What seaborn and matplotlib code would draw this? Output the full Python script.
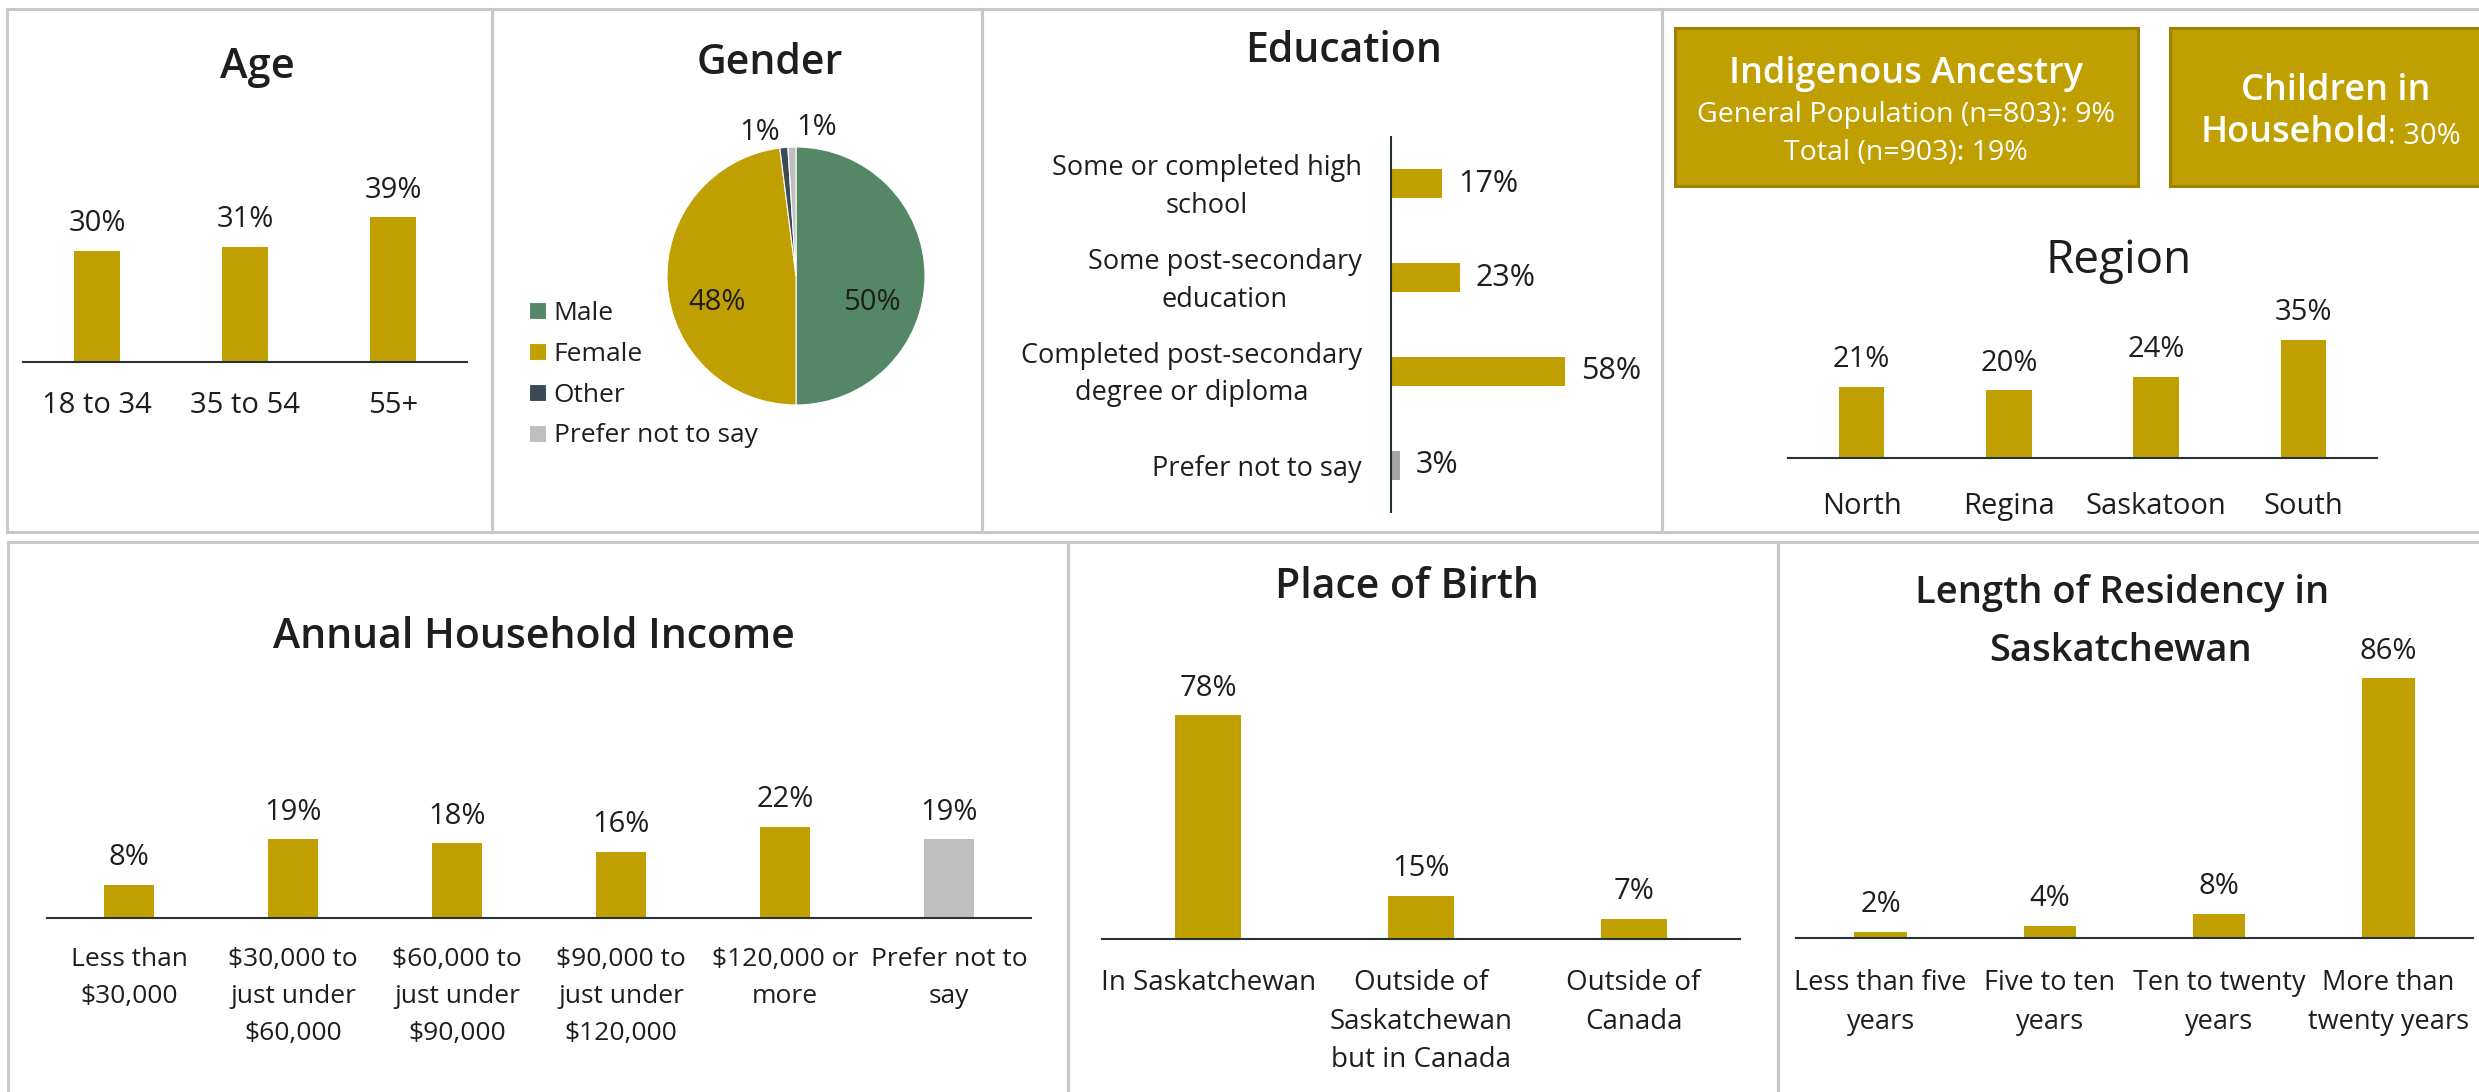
import pandas as pd
import seaborn as sns
import matplotlib.pyplot as plt
from matplotlib.patches import Rectangle
from matplotlib.text import Annotation
from matplotlib.transforms import ScaledTranslation

# ---- data ----
age_cats = ['18 to 34', '35 to 54', '55+']
age_vals = [30, 31, 39]

gender_cats = ['Male', 'Female', 'Other', 'Prefer not to say']
gender_vals = [50, 48, 1, 1]

edu_cats = ['Some or completed high\nschool', 'Some post-secondary\neducation',
            'Completed post-secondary\ndegree or diploma', 'Prefer not to say']
edu_vals = [17, 23, 58, 3]

region_cats = ['North', 'Regina', 'Saskatoon', 'South']
region_vals = [21, 20, 24, 35]

income_cats = ['Less than\n\\$30,000', '\\$30,000 to\njust under\n\\$60,000',
               '\\$60,000 to\njust under\n\\$90,000', '\\$90,000 to\njust under\n\\$120,000',
               '\\$120,000 or\nmore', 'Prefer not to\nsay']
income_vals = [8, 19, 18, 16, 22, 19]

birth_cats = ['In Saskatchewan', 'Outside of\nSaskatchewan\nbut in Canada', 'Outside of\nCanada']
birth_vals = [78, 15, 7]

res_cats = ['Less than five\nyears', 'Five to ten\nyears', 'Ten to twenty\nyears', 'More than\ntwenty years']
res_vals = [2, 4, 8, 86]

indig_general = 9
indig_total = 19
children_pct = 30

GOLD = '#C0A000'
GOLD_EDGE = '#9C8200'
GREEN = '#538766'
SLATE = '#3B4A55'
LGRAY = '#BFBFBF'
MGRAY = '#A6A6A6'
INK = '#1E1E1E'
AXIS = '#263238'
BORDER = '#C8C8C8'

sns.set_theme(style='white')
plt.rcParams['font.family'] = ['Open Sans', 'DejaVu Sans']
plt.rcParams['text.color'] = INK
plt.rcParams['xtick.color'] = INK
plt.rcParams['ytick.color'] = INK

W, H = 2479, 1092
fig = plt.figure(figsize=(W / 100, H / 100), dpi=100)
fig.patch.set_facecolor('white')


def fx(x):
    return x / W


def fy(y):
    return 1 - y / H


def place(x0, y0, x1, y1):
    ax = fig.add_axes([fx(x0), fy(y1), (x1 - x0) / W, (y1 - y0) / H])
    ax.set_facecolor('none')
    return ax


def panel(x0, y0, x1, y1):
    fig.add_artist(Rectangle((fx(x0), fy(y1)), (x1 - x0) / W, (y1 - y0) / H,
                             transform=fig.transFigure, fill=False,
                             edgecolor=BORDER, linewidth=2.2))


def title(x, y, s, size=29.5, weight='semibold'):
    fig.text(fx(x), fy(y), s, ha='center', va='baseline', fontsize=size,
             fontweight=weight, color=INK)


def vbars(cats, vals, colors, left, right, base, top, px, pad, size, ls=1.6):
    ax = place(left, top, right, base)
    df = pd.DataFrame({'cat': cats, 'val': vals})
    sns.barplot(data=df, x='cat', y='val', hue='cat', palette=dict(zip(cats, colors)),
                legend=False, width=0.31, saturation=1, linewidth=0, ax=ax)
    ax.set_xlim(-0.5, len(cats) - 0.5)
    ax.set_ylim(0, (base - top) / px)
    ax.set_xlabel('')
    ax.set_ylabel('')
    ax.set_yticks([])
    for s in ['top', 'left', 'right']:
        ax.spines[s].set_visible(False)
    ax.spines['bottom'].set_color(AXIS)
    ax.spines['bottom'].set_linewidth(1.5)
    ax.tick_params(axis='x', length=0, pad=pad, labelsize=size)
    plt.setp(ax.get_xticklabels(), linespacing=ls)
    for i, v in enumerate(vals):
        ax.annotate(f'{v}%', (i, v), xytext=(0, 19.5), textcoords='offset points',
                    ha='center', va='center', fontsize=21, color=INK)
    return ax


# ---- panel frames ----
panel(7, 9, 492, 532)
panel(492, 9, 982, 532)
panel(982, 9, 1662, 532)
panel(1662, 9, 2520, 532)
panel(8, 542, 1068, 1120)
panel(1068, 542, 1778, 1120)
panel(1778, 542, 2520, 1120)

# ---- Age ----
title(257, 78, 'Age', size=30)
vbars(age_cats, age_vals, [GOLD] * 3, 23, 467, 361.6, 150, 3.7, 21, 21)

# ---- Gender ----
title(770, 74, 'Gender')
axp = place(667, 147, 925, 405)
wedges, _ = axp.pie(gender_vals, colors=[GREEN, GOLD, SLATE, LGRAY], startangle=90,
                    counterclock=False, wedgeprops=dict(edgecolor='white', linewidth=0.8))
axp.set_xlim(-1, 1)
axp.set_ylim(-1, 1)
for (x, y), v in zip([(872, 310), (717, 310), (760, 140), (817, 135)], gender_vals):
    fig.text(fx(x), fy(y), f'{v}%', ha='center', va='baseline', fontsize=21, color=INK)
fig.legend(wedges, gender_cats, loc='upper left', bbox_to_anchor=(fx(529), fy(301)),
           frameon=False, fontsize=19, handlelength=0.64, handleheight=0.64,
           handletextpad=0.3, labelspacing=0.6, borderpad=0, borderaxespad=0)

# ---- Education ----
title(1344, 62, 'Education')
axe = place(1391, 137, 1620, 512)
dfe = pd.DataFrame({'cat': edu_cats, 'val': edu_vals})
sns.barplot(data=dfe, x='val', y='cat', hue='cat', orient='h',
            palette=dict(zip(edu_cats, [GOLD, GOLD, GOLD, MGRAY])), legend=False,
            width=0.31, saturation=1, linewidth=0, ax=axe)
axe.set_xlim(0, (1620 - 1391) / 3.0)
axe.set_ylim(3.5, -0.5)
axe.set_xlabel('')
axe.set_ylabel('')
axe.set_xticks([])
for s in ['top', 'bottom', 'right']:
    axe.spines[s].set_visible(False)
axe.spines['left'].set_color(AXIS)
axe.spines['left'].set_linewidth(1.5)
axe.tick_params(axis='y', length=0, pad=21, labelsize=19.5)
plt.setp(axe.get_yticklabels(), linespacing=1.46, multialignment='center')
# two-line labels sit a little low with center_baseline; nudge them up
for lab in axe.get_yticklabels():
    if '\n' in lab.get_text():
        lab.set_transform(lab.get_transform() + ScaledTranslation(0, 3.8 / 72, fig.dpi_scale_trans))
for i, v in enumerate(edu_vals):
    axe.annotate(f'{v}%', (v, i), xytext=(11.5, 0), textcoords='offset points',
                 ha='left', va='center', fontsize=22, color=INK)

# ---- Indigenous / Children boxes ----
fig.add_artist(Rectangle((fx(1675), fy(186)), (2138 - 1675) / W, (186 - 27.5) / H,
                         transform=fig.transFigure, facecolor=GOLD, edgecolor=GOLD_EDGE, linewidth=2.2))
fig.add_artist(Rectangle((fx(2170), fy(186)), (2530 - 2170) / W, (186 - 27.5) / H,
                         transform=fig.transFigure, facecolor=GOLD, edgecolor=GOLD_EDGE, linewidth=2.2))
fig.text(fx(1906), fy(82.6), 'Indigenous Ancestry', ha='center', va='baseline',
         fontsize=26, fontweight='semibold', color='white')
fig.text(fx(1906), fy(122), f'General Population (n=803): {indig_general}%', ha='center',
         va='baseline', fontsize=20.5, color='white')
fig.text(fx(1906), fy(160), f'Total (n=903): {indig_total}%', ha='center',
         va='baseline', fontsize=20.5, color='white')
fig.text(fx(2336), fy(100), 'Children in', ha='center', va='baseline',
         fontsize=26, fontweight='semibold', color='white')
hh = fig.text(fx(2388), fy(141.7), 'Household', ha='right', va='baseline',
              fontsize=26, fontweight='semibold', color='white')
fig.add_artist(Annotation(f': {children_pct}%', xy=(1, 0), xycoords=hh, ha='left',
                          va='bottom', fontsize=21, color='white'))

# ---- Region ----
title(2119, 273.5, 'Region', size=33, weight='normal')
vbars(region_cats, region_vals, [GOLD] * 4, 1788, 2377, 457.5, 300, 3.37, 25, 21)

# ---- Annual Household Income ----
title(534, 648, 'Annual Household Income')
vbars(income_cats, income_vals, [GOLD] * 5 + [LGRAY], 47, 1031, 918, 750, 4.15, 21, 19, ls=1.64)

# ---- Place of Birth ----
title(1407, 598, 'Place of Birth')
vbars(birth_cats, birth_vals, [GOLD] * 3, 1102, 1740, 939, 650, 2.87, 21.5, 20, ls=1.51)

# ---- Length of Residency ----
title(2122, 603.5, 'Length of Residency in', size=27.5)
title(2121, 661, 'Saskatchewan', size=27.5)
vbars(res_cats, res_vals, [GOLD] * 4, 1796, 2473, 938, 640, 3.02, 22, 19.5, ls=1.54)

fig.savefig('out.png', dpi=100, facecolor='white')
